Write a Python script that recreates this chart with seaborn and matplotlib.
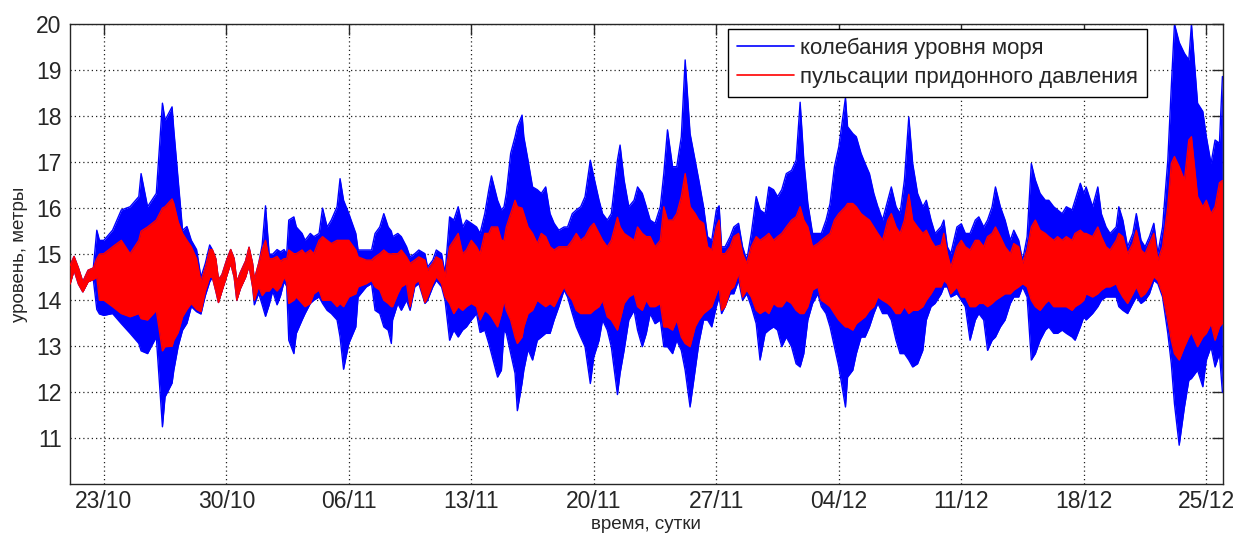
import matplotlib
matplotlib.use("Agg")
import matplotlib.pyplot as plt
import matplotlib.dates as mdates
from matplotlib.lines import Line2D
import seaborn as sns
import pandas as pd
import numpy as np

# время в сутках от 21/10, огибающие (макс/мин) обеих кривых
t_days = [
    0.07, 0.30, 0.55, 0.80, 1.10, 1.40, 1.60, 1.75, 2.00, 2.50, 3.00, 3.50, 4.00, 4.13,
    4.50, 5.00, 5.35, 5.50, 5.90, 6.00, 6.25, 6.50, 6.75, 7.00, 7.30, 7.55, 7.80, 8.05,
    8.20, 8.40, 8.55, 8.75, 9.00, 9.25, 9.45, 9.60, 9.80, 10.10, 10.30, 10.50, 10.60, 10.85,
    11.05, 11.24, 11.45, 11.65, 11.90, 12.10, 12.30, 12.45, 12.57, 12.86, 13.00, 13.33, 13.50, 13.80,
    14.00, 14.30, 14.50, 14.76, 15.00, 15.33, 15.50, 15.70, 16.00, 16.40, 16.53, 17.00, 17.30, 17.50,
    17.77, 18.00, 18.25, 18.43, 18.50, 18.80, 19.00, 19.30, 19.50, 19.77, 20.00, 20.35, 20.50, 20.80,
    21.00, 21.30, 21.50, 21.76, 22.00, 22.25, 22.50, 22.72, 23.00, 23.30, 23.50, 23.77, 24.00, 24.15,
    24.50, 24.72, 24.87, 25.00, 25.25, 25.50, 25.63, 25.90, 26.00, 26.24, 26.50, 26.77, 27.00, 27.25,
    27.50, 27.73, 28.00, 28.30, 28.50, 28.77, 29.00, 29.25, 29.50, 29.80, 30.00, 30.30, 30.50, 30.77,
    31.00, 31.35, 31.50, 31.73, 32.00, 32.30, 32.50, 32.77, 33.00, 33.22, 33.50, 33.80, 34.00, 34.21,
    34.50, 34.74, 35.00, 35.22, 35.50, 35.79, 36.00, 36.27, 36.50, 36.74, 37.00, 37.16, 37.30, 37.50,
    37.79, 38.00, 38.27, 38.50, 38.74, 39.00, 39.28, 39.50, 39.79, 40.00, 40.27, 40.50, 40.74, 41.00,
    41.30, 41.56, 41.79, 42.00, 42.23, 42.50, 42.80, 43.00, 43.27, 43.50, 43.75, 44.00, 44.38, 44.50,
    44.80, 45.00, 45.27, 45.50, 45.75, 46.00, 46.23, 46.50, 46.80, 47.00, 47.27, 47.50, 47.75, 48.00,
    48.22, 48.50, 48.80, 49.00, 49.27, 49.50, 49.85, 50.00, 50.20, 50.40, 50.75, 51.00, 51.23, 51.50,
    51.80, 52.00, 52.28, 52.50, 52.76, 52.95, 53.23, 53.50, 53.80, 54.00, 54.28, 54.50, 54.76, 55.00,
    55.23, 55.50, 55.80, 56.00, 56.28, 56.50, 56.76, 57.00, 57.33, 57.50, 57.80, 58.00, 58.13, 58.50,
    58.80, 59.00, 59.27, 59.50, 59.85, 60.00, 60.23, 60.50, 60.80, 61.00, 61.27, 61.50, 61.75, 62.00,
    62.23, 62.50, 62.80, 63.00, 63.18, 63.45, 63.75, 64.00, 64.15, 64.50, 64.80, 65.00, 65.27, 65.50,
    65.75, 65.92,
]

sea_hi = [
    14.75, 14.95, 14.70, 14.40, 14.65, 14.70, 15.52, 15.30, 15.30, 15.52, 15.96, 16.03, 16.25, 16.75,
    16.03, 16.32, 18.28, 17.91, 18.20, 17.70, 16.60, 15.52, 15.60, 15.30, 15.10, 14.50, 14.80, 15.20,
    15.10, 14.90, 14.45, 14.55, 14.85, 15.10, 14.90, 14.40, 14.60, 14.85, 15.15, 14.80, 14.45, 14.80,
    15.20, 16.05, 15.00, 15.00, 15.10, 15.05, 15.10, 15.00, 15.74, 15.81, 15.59, 15.45, 15.30, 15.45,
    15.38, 15.45, 16.00, 15.59, 15.74, 16.03, 16.64, 16.17, 15.88, 15.45, 15.09, 15.09, 15.09, 15.45,
    15.59, 15.88, 15.59, 15.50, 15.38, 15.45, 15.38, 15.16, 14.94, 15.01, 15.09, 15.01, 14.72, 14.87,
    15.09, 15.01, 14.58, 15.81, 15.74, 16.03, 15.59, 15.74, 15.67, 15.59, 15.45, 15.88, 16.40, 16.70,
    16.17, 15.96, 16.03, 16.32, 17.19, 17.55, 17.77, 18.02, 17.55, 17.04, 16.46, 16.40, 16.32, 16.46,
    15.88, 15.67, 15.52, 15.59, 15.59, 15.88, 15.96, 16.03, 16.25, 17.04, 16.68, 16.17, 15.88, 15.74,
    15.88, 17.04, 17.37, 16.61, 16.03, 16.17, 16.46, 16.32, 16.03, 15.74, 15.67, 16.03, 16.75, 17.70,
    16.90, 16.90, 17.55, 19.22, 17.62, 17.04, 16.61, 16.03, 15.38, 15.30, 15.96, 16.05, 15.16, 15.16,
    15.38, 15.59, 15.67, 15.16, 14.87, 15.45, 16.25, 15.96, 15.88, 16.46, 16.40, 16.25, 16.40, 16.75,
    16.82, 17.04, 18.30, 17.04, 16.10, 15.45, 15.45, 15.45, 15.74, 16.10, 16.90, 17.33, 18.40, 17.77,
    17.62, 17.55, 17.19, 16.97, 16.75, 16.32, 16.03, 15.74, 16.17, 16.46, 16.03, 15.88, 16.61, 17.98,
    16.97, 16.32, 16.03, 16.17, 15.74, 15.45, 15.60, 15.74, 15.16, 15.01, 15.59, 15.66, 15.45, 15.45,
    15.74, 15.81, 15.59, 15.74, 16.03, 16.46, 16.03, 15.74, 15.30, 15.52, 15.30, 14.86, 15.38, 16.97,
    16.61, 16.32, 16.17, 16.17, 16.03, 15.96, 15.88, 16.03, 15.96, 16.17, 16.54, 16.32, 16.46, 16.03,
    16.46, 15.88, 15.59, 15.45, 15.59, 16.03, 15.74, 15.16, 15.45, 15.88, 15.30, 15.16, 15.38, 15.67,
    15.01, 15.59, 17.04, 18.64, 20.00, 19.60, 19.36, 19.22, 20.00, 18.28, 18.10, 17.55, 16.97, 17.48,
    17.41, 18.86,
]

sea_lo = [
    14.35, 14.65, 14.35, 14.18, 14.40, 14.45, 13.80, 13.70, 13.67, 13.71, 13.49, 13.28, 13.06, 12.90,
    12.84, 13.20, 11.25, 11.90, 12.20, 12.48, 13.00, 13.35, 13.50, 13.86, 13.75, 13.70, 14.10, 14.40,
    14.50, 14.20, 13.95, 14.20, 14.50, 14.80, 14.50, 14.00, 14.25, 14.50, 14.75, 14.30, 13.90, 14.15,
    13.90, 13.65, 13.90, 14.20, 13.90, 14.10, 14.40, 14.30, 13.13, 12.84, 13.28, 13.57, 13.71, 13.93,
    14.00, 14.07, 13.93, 13.78, 13.71, 13.57, 13.20, 12.50, 13.06, 13.42, 14.07, 14.29, 14.36, 13.78,
    13.71, 13.42, 13.35, 13.06, 13.57, 13.93, 13.78, 14.00, 13.78, 14.29, 14.36, 13.93, 14.00, 14.29,
    14.43, 14.29, 14.00, 13.13, 13.35, 13.20, 13.35, 13.42, 13.57, 13.71, 13.30, 13.35, 13.06, 12.84,
    12.33, 12.48, 13.35, 13.28, 12.84, 12.41, 11.60, 12.20, 12.48, 12.93, 12.70, 13.13, 13.20, 13.28,
    13.28, 13.57, 13.86, 14.22, 14.07, 13.71, 13.42, 13.20, 12.99, 12.19, 12.77, 13.13, 13.57, 13.35,
    12.99, 11.95, 12.41, 12.91, 13.57, 13.78, 13.35, 12.99, 13.28, 13.71, 13.49, 13.57, 12.99, 12.99,
    12.84, 13.13, 12.91, 12.48, 11.68, 12.48, 13.06, 13.57, 13.57, 13.42, 13.86, 14.07, 13.71, 13.86,
    14.14, 14.14, 14.43, 14.00, 14.14, 13.86, 13.49, 12.70, 13.28, 13.35, 13.42, 13.35, 12.99, 13.20,
    12.99, 12.62, 12.55, 12.84, 13.57, 13.93, 14.14, 13.86, 13.71, 13.42, 12.99, 12.55, 11.68, 12.33,
    12.48, 12.84, 13.20, 13.20, 13.42, 13.71, 13.93, 13.71, 13.71, 13.57, 13.13, 12.84, 12.84, 12.70,
    12.55, 12.62, 12.91, 13.57, 13.86, 13.93, 14.14, 14.29, 14.29, 14.07, 14.14, 14.00, 13.86, 13.13,
    13.57, 13.71, 13.57, 12.91, 13.13, 13.20, 13.42, 13.57, 13.93, 14.07, 14.07, 14.29, 14.07, 12.70,
    12.84, 13.13, 13.35, 13.42, 13.28, 13.28, 13.35, 13.28, 13.20, 13.13, 13.42, 13.64, 13.57, 13.71,
    13.86, 14.00, 14.07, 14.07, 14.07, 13.86, 13.78, 13.71, 13.93, 14.07, 13.93, 14.00, 14.14, 14.43,
    14.36, 14.07, 13.28, 12.62, 11.75, 10.85, 11.68, 12.26, 12.30, 12.48, 12.12, 12.70, 12.99, 12.55,
    12.84, 12.00,
]

bottom_hi = [
    14.75, 14.95, 14.70, 14.40, 14.65, 14.70, 14.90, 15.00, 15.01, 15.16, 15.30, 15.01, 15.30, 15.50,
    15.59, 15.74, 16.00, 16.03, 16.20, 16.10, 15.70, 15.45, 15.30, 15.16, 14.90, 14.40, 14.70, 15.10,
    15.10, 14.90, 14.45, 14.55, 14.85, 15.10, 14.90, 14.40, 14.60, 14.85, 15.15, 14.80, 14.45, 14.80,
    15.10, 15.30, 14.90, 14.90, 14.95, 14.85, 14.90, 14.90, 15.09, 15.01, 15.01, 15.09, 15.01, 15.09,
    15.01, 15.30, 15.38, 15.30, 15.23, 15.30, 15.30, 15.30, 15.30, 15.09, 14.94, 14.87, 14.87, 14.94,
    15.01, 15.09, 15.01, 15.00, 15.01, 15.01, 15.09, 14.94, 14.80, 14.87, 14.94, 14.87, 14.65, 14.80,
    14.94, 14.87, 14.51, 15.16, 15.30, 15.45, 15.01, 15.09, 15.30, 15.16, 15.01, 15.45, 15.45, 15.59,
    15.59, 15.30, 15.30, 15.59, 15.88, 16.17, 16.03, 16.00, 15.88, 15.59, 15.45, 15.23, 15.45, 15.38,
    15.16, 15.09, 15.16, 15.16, 15.16, 15.30, 15.45, 15.30, 15.38, 15.59, 15.67, 15.45, 15.30, 15.16,
    15.30, 15.80, 15.59, 15.45, 15.38, 15.30, 15.59, 15.45, 15.38, 15.38, 15.16, 15.30, 16.03, 15.74,
    15.74, 15.88, 16.25, 16.75, 16.03, 15.88, 15.74, 15.67, 15.16, 15.09, 15.59, 15.74, 15.01, 15.01,
    15.16, 15.38, 15.45, 15.01, 14.80, 15.16, 15.38, 15.30, 15.38, 15.45, 15.30, 15.38, 15.45, 15.59,
    15.74, 15.81, 16.03, 15.74, 15.59, 15.16, 15.23, 15.30, 15.38, 15.45, 15.74, 15.88, 16.03, 16.10,
    16.10, 16.03, 15.88, 15.81, 15.74, 15.59, 15.45, 15.30, 15.74, 15.88, 15.59, 15.45, 15.74, 16.30,
    15.74, 15.59, 15.45, 15.52, 15.30, 15.16, 15.20, 15.45, 15.01, 14.72, 15.16, 15.30, 15.16, 15.09,
    15.30, 15.30, 15.16, 15.38, 15.45, 15.59, 15.38, 15.16, 15.01, 15.23, 15.16, 14.80, 15.09, 15.59,
    15.74, 15.52, 15.45, 15.38, 15.30, 15.38, 15.30, 15.38, 15.30, 15.45, 15.52, 15.45, 15.45, 15.38,
    15.59, 15.38, 15.16, 15.09, 15.30, 15.45, 15.38, 15.01, 15.23, 15.52, 15.09, 15.01, 15.23, 15.45,
    14.87, 15.16, 16.03, 16.97, 17.12, 16.90, 16.61, 17.48, 17.55, 16.25, 16.03, 16.17, 15.88, 16.03,
    16.55, 16.60,
]

bottom_lo = [
    14.35, 14.65, 14.35, 14.18, 14.40, 14.45, 14.50, 14.00, 14.00, 13.86, 13.71, 13.64, 13.71, 13.60,
    13.57, 13.78, 12.90, 12.99, 13.00, 13.13, 13.30, 13.64, 13.80, 13.93, 13.80, 13.75, 14.20, 14.50,
    14.50, 14.20, 13.95, 14.20, 14.50, 14.80, 14.50, 14.00, 14.25, 14.50, 14.75, 14.30, 14.00, 14.30,
    14.10, 14.20, 14.20, 14.30, 14.20, 14.30, 14.50, 14.40, 13.93, 14.00, 14.07, 13.93, 13.86, 13.93,
    14.14, 14.22, 14.00, 14.00, 14.00, 13.86, 13.93, 13.86, 14.07, 14.14, 14.29, 14.36, 14.43, 14.29,
    14.22, 14.00, 13.93, 13.86, 13.86, 14.14, 14.29, 14.36, 13.86, 14.36, 14.43, 13.95, 14.07, 14.36,
    14.51, 14.36, 14.07, 13.93, 13.71, 13.86, 13.78, 13.86, 13.93, 13.86, 13.57, 13.78, 13.71, 13.64,
    13.42, 13.71, 14.00, 13.78, 13.57, 13.20, 13.06, 13.20, 13.42, 13.71, 13.78, 14.00, 13.93, 13.86,
    13.93, 13.86, 14.07, 14.29, 14.14, 14.00, 13.78, 13.71, 13.71, 13.71, 13.78, 13.86, 14.00, 13.64,
    13.57, 13.35, 13.57, 13.93, 14.07, 14.14, 13.86, 13.78, 14.00, 13.86, 13.86, 13.93, 13.42, 13.42,
    13.35, 13.57, 13.20, 13.06, 12.99, 13.42, 13.57, 13.71, 13.78, 13.86, 14.14, 14.29, 13.78, 13.86,
    14.22, 14.29, 14.58, 14.07, 14.22, 14.07, 13.78, 13.71, 13.78, 13.71, 13.93, 13.86, 13.86, 14.00,
    13.93, 13.78, 13.71, 13.71, 13.86, 14.22, 14.29, 14.00, 13.93, 13.86, 13.71, 13.57, 13.42, 13.42,
    13.35, 13.49, 13.57, 13.64, 13.78, 13.86, 14.07, 14.00, 13.93, 13.86, 13.71, 13.71, 13.86, 13.71,
    13.78, 13.78, 13.86, 14.00, 14.14, 14.29, 14.29, 14.43, 14.36, 14.14, 14.29, 14.07, 14.07, 13.86,
    13.86, 13.93, 13.93, 13.86, 13.93, 14.00, 14.07, 14.14, 14.14, 14.22, 14.29, 14.36, 14.29, 14.00,
    13.86, 13.78, 13.93, 14.00, 13.86, 13.86, 13.86, 13.86, 13.78, 13.86, 13.93, 14.00, 14.14, 14.07,
    14.14, 14.22, 14.29, 14.29, 14.36, 14.22, 14.07, 13.93, 14.14, 14.29, 14.07, 14.14, 14.29, 14.51,
    14.43, 14.14, 13.57, 13.13, 12.84, 12.70, 12.99, 13.20, 13.30, 12.99, 13.20, 13.28, 13.49, 13.13,
    13.42, 13.50,
]

labels = ["колебания уровня моря", "пульсации придонного давления"]
tick_days = [2, 9, 16, 23, 30, 37, 44, 51, 58, 65]
y_ticks = [11, 12, 13, 14, 15, 16, 17, 18, 19, 20]

assert len(t_days) == len(sea_hi) == len(sea_lo) == len(bottom_hi) == len(bottom_lo)

start = pd.Timestamp("2012-10-21")
df = pd.DataFrame({
    "time": start + pd.to_timedelta(t_days, unit="D"),
    "sea_hi": sea_hi, "sea_lo": sea_lo,
    "bot_hi": bottom_hi, "bot_lo": bottom_lo,
})

sns.set_style("white")
plt.rcParams["font.family"] = ["Liberation Sans", "DejaVu Sans"]

fig = plt.figure(figsize=(12.33, 5.37), dpi=100)
ax = fig.add_axes([0.0568, 0.0981, 0.9349, 0.8572])

blue = "#0000ff"
red = "#ff0000"

ax.fill_between(df["time"], df["sea_lo"], df["sea_hi"], color=blue, lw=0, zorder=2)
for col in ["sea_hi", "sea_lo"]:
    sns.lineplot(data=df, x="time", y=col, ax=ax, color=blue, lw=1.0,
                 estimator=None, zorder=2)
ax.fill_between(df["time"], df["bot_lo"], df["bot_hi"], color=red, lw=0, zorder=3)
for col in ["bot_hi", "bot_lo"]:
    sns.lineplot(data=df, x="time", y=col, ax=ax, color=red, lw=1.0,
                 estimator=None, zorder=3)

ax.set_xlim(start + pd.Timedelta(days=0.07), start + pd.Timedelta(days=65.94))
ax.set_ylim(10, 20)
ax.set_xticks([start + pd.Timedelta(days=d) for d in tick_days])
ax.xaxis.set_major_formatter(mdates.DateFormatter("%d/%m"))
ax.set_yticks(y_ticks)

ax.grid(True, color="#222222", linestyle=(0, (1, 2.4)), linewidth=0.9)
ax.set_axisbelow(True)
ax.tick_params(direction="in", length=8, width=1, top=True, right=True,
               labelsize=16.5, colors="#262626")
ax.tick_params(axis="x", pad=4)
ax.tick_params(axis="y", pad=6)
for sp in ax.spines.values():
    sp.set_color("#262626")
    sp.set_linewidth(1.0)

ax.set_xlabel("время, сутки", fontsize=13.5, labelpad=2)
ax.set_ylabel("уровень, метры", fontsize=13.5, labelpad=6)

handles = [Line2D([], [], color=blue, lw=1.2), Line2D([], [], color=red, lw=1.2)]
leg = ax.legend(handles, labels, loc="upper right", bbox_to_anchor=(0.934, 0.989),
                borderaxespad=0, fontsize=16, frameon=True, fancybox=False,
                framealpha=1, edgecolor="black", handlelength=2.6,
                handletextpad=0.25, labelspacing=0.35, borderpad=0.4)
leg.get_frame().set_linewidth(1.0)
leg.set_zorder(10)

fig.savefig("out.png", dpi=100)
